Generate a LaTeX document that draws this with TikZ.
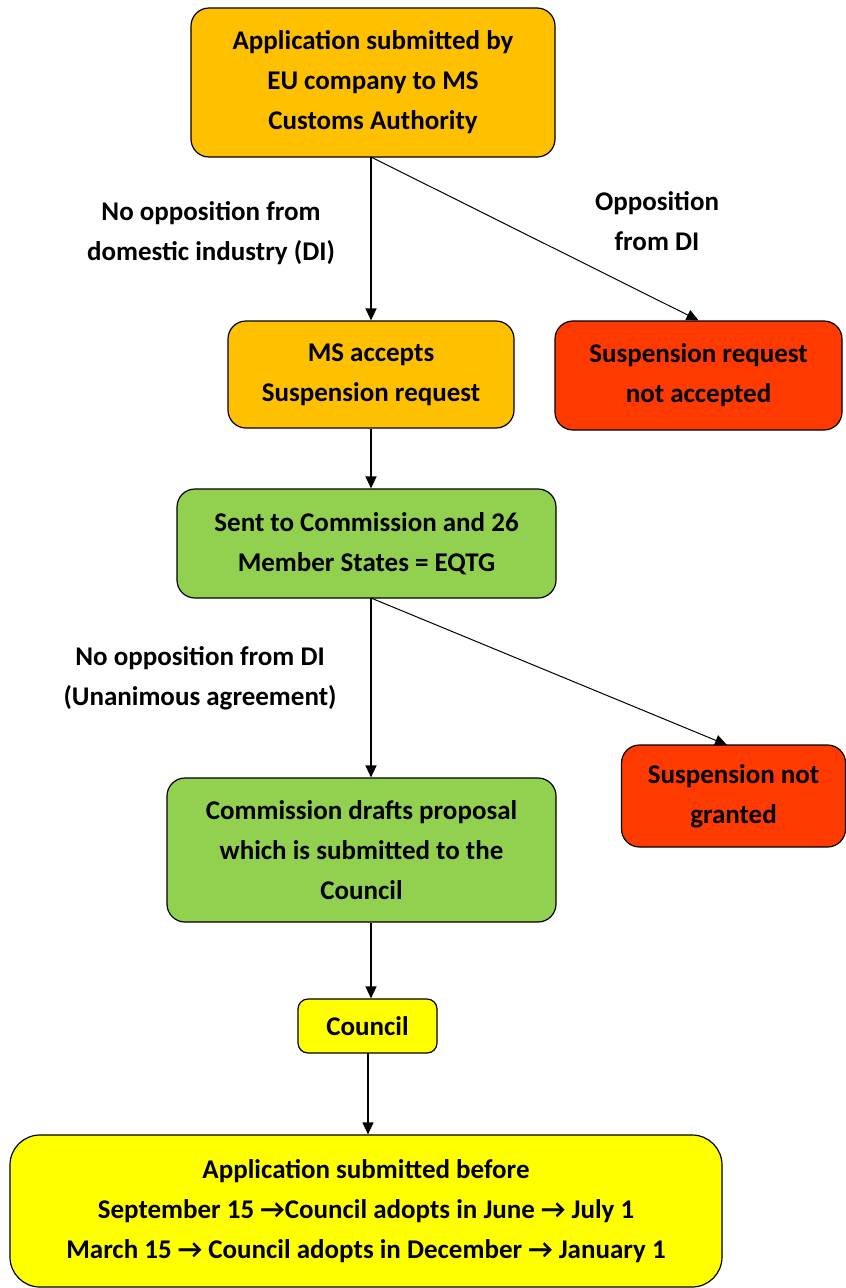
\documentclass[tikz,border=0pt]{standalone}
\usepackage{fontspec}
\setmainfont{Carlito}
\usetikzlibrary{arrows.meta}
\definecolor{cOrange}{HTML}{FFC000}
\definecolor{cRed}{HTML}{FF3A00}
\definecolor{cGreen}{HTML}{92D050}
\definecolor{cYellow}{HTML}{FFFF00}
\begin{document}
\begin{tikzpicture}[x=1pt,y=-1pt,
  box/.style={draw=black, line width=1.2pt, rounded corners=18pt, align=center,
    font=\fontsize{27}{40}\selectfont\bfseries, inner sep=0pt},
  lbl/.style={align=center, font=\fontsize{27}{40}\selectfont\bfseries, inner sep=0pt},
  arr/.style={line width=1.4pt, -{Triangle[width=11pt,length=12pt]}}]
\useasboundingbox (0,0) rectangle (846,1288);
\node[box, fill=cOrange, minimum width=364pt, minimum height=149pt] (top) at (373,82.5)
  {Application submitted by\\EU company to MS\\Customs Authority};
\node[box, fill=cOrange, minimum width=286pt, minimum height=107pt] (ms) at (371,374.5)
  {MS accepts\\Suspension request};
\node[box, fill=cRed, minimum width=287pt, minimum height=109pt] (rej) at (698.5,375.5)
  {Suspension request\\not accepted};
\node[box, fill=cGreen, minimum width=379pt, minimum height=109pt] (eqtg) at (366.5,543.5)
  {Sent to Commission and 26\\Member States = EQTG};
\node[box, fill=cRed, minimum width=224pt, minimum height=102pt] (ng) at (733.5,796)
  {Suspension not\\granted};
\node[box, fill=cGreen, minimum width=389pt, minimum height=144pt] (prop) at (361.5,850)
  {Commission drafts proposal\\which is submitted to the\\Council};
\node[box, fill=cYellow, rounded corners=10pt, minimum width=139pt, minimum height=54pt] (council) at (367.5,1026)
  {Council};
\node[box, fill=cYellow, rounded corners=30pt, minimum width=712pt, minimum height=152pt] (final) at (366,1211)
  {Application submitted before\\September 15 \textrightarrow Council adopts in June \textrightarrow{} July 1\\March 15 \textrightarrow{} Council adopts in December \textrightarrow{} January 1};
\node[lbl] (l1) at (211,233) {No opposition from\\domestic industry (DI)};
\node[lbl] (l2) at (657,221) {Opposition\\from DI};
\node[lbl] (l3) at (200,678) {No opposition from DI\\(Unanimous agreement)};
\coordinate (t1) at (371,157);
\coordinate (t2) at (371,598);
\coordinate (t4) at (368,1053);
\draw[arr] (t1) -- (ms.north);
\draw[arr, line width=1pt] (t1) -- (rej.north);
\draw[arr] (ms.south) -- (ms.south |- eqtg.north);
\draw[arr] (t2) -- (t2 |- prop.north);
\draw[arr, line width=1pt] (t2) -- (727,745) coordinate (t3);
\draw[arr] (prop.south -| t2) -- (t2 |- council.north);
\draw[arr] (t4) -- (t4 |- final.north);
\end{tikzpicture}
\end{document}
